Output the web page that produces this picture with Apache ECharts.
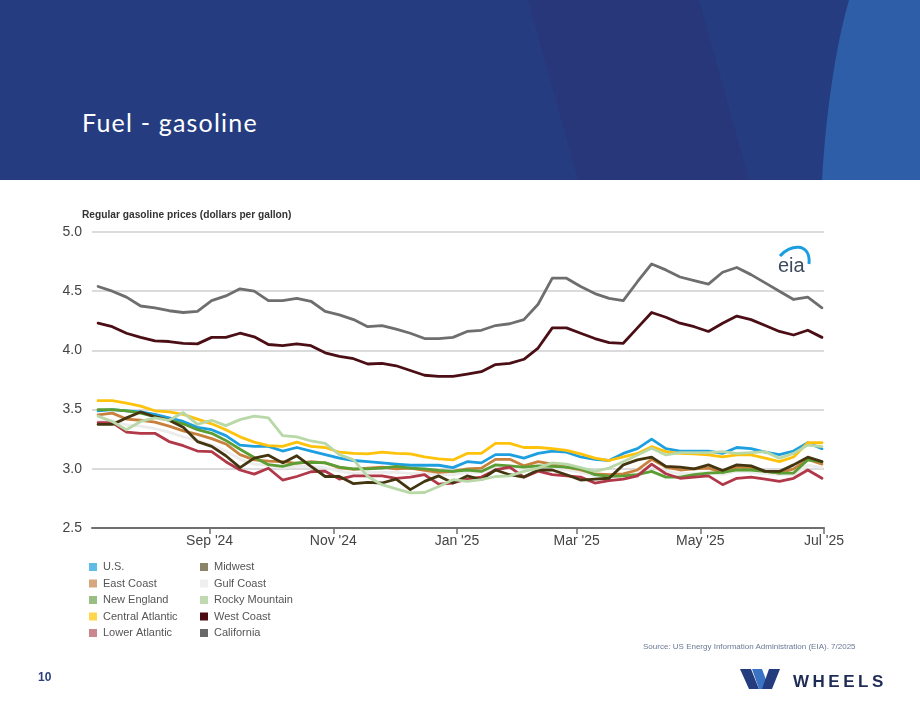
<!DOCTYPE html>
<html><head><meta charset="utf-8">
<script src="https://cdn.jsdelivr.net/npm/echarts@6/dist/echarts.min.js"></script>
<style>
html,body{margin:0;padding:0;width:920px;height:711px;overflow:hidden;background:#fff;font-family:"Liberation Sans",Arial,sans-serif;}
#header{position:absolute;left:0;top:0;}
#title{position:absolute;left:82px;top:106px;color:#fff;font-family:Lato,"Open Sans",sans-serif;font-size:25px;line-height:32px;letter-spacing:1.2px;}
#chart{position:absolute;left:0;top:0;width:920px;height:711px;}
#source{position:absolute;left:643px;top:642px;font-size:8px;color:#6a7896;white-space:nowrap;}
#page{position:absolute;left:38px;top:670px;font-size:12px;font-weight:bold;color:#2b3f7e;}
#logo{position:absolute;left:738px;top:666px;}
</style></head><body>
<svg id="header" width="920" height="180">
  <rect x="0" y="0" width="920" height="180" fill="#253d80"/>
  <polygon points="528,0 699,0 749,180 578,180" fill="#28377a"/>
  <path d="M849,0 L920,0 L920,180 L822,180 C826,110 836,45 849,0 Z" fill="#2e5ea8"/>
</svg>
<div id="title">Fuel - gasoline</div>
<div id="chart"></div>
<div id="source">Source: US Energy Information Administration (EIA). 7/2025</div>
<div id="page">10</div>
<svg id="logo" width="150" height="26">
  <polygon points="2,3 13,3 21,23 11,23" fill="#243c7e"/>
  <polygon points="14,3 24,3 30,19 26,23 21,23" fill="#3a73c4"/>
  <polygon points="31,3 42,3 34,23 24,23" fill="#243c7e"/>
  <text x="55" y="21" font-family="Liberation Sans, Arial" font-weight="bold" font-size="17" letter-spacing="3.5" fill="#1e2b55">WHEELS</text>
</svg>
<script>
// weekly observation dates (Mondays)
const startDate = [2024, 6, 8];
const weekCount = 52;
const dates = [];
for (let i = 0; i < weekCount; i++) dates.push(Date.UTC(startDate[0], startDate[1], startDate[2] + 7 * i));

const tickDates = [[2024,8,1],[2024,10,1],[2025,0,1],[2025,2,1],[2025,4,1],[2025,6,1]];
const tickLabels = ["Sep '24","Nov '24","Jan '25","Mar '25","May '25","Jul '25"];

const seriesNames = ['U.S.','East Coast','New England','Central Atlantic','Lower Atlantic','Midwest','Gulf Coast','Rocky Mountain','West Coast','California'];

const usData = [3.49,3.50,3.49,3.48,3.46,3.43,3.40,3.35,3.33,3.28,3.20,3.19,3.19,3.15,3.18,3.15,3.12,3.09,3.07,3.06,3.05,3.04,3.03,3.03,3.03,3.01,3.06,3.05,3.12,3.12,3.09,3.13,3.15,3.14,3.10,3.08,3.07,3.13,3.17,3.25,3.17,3.15,3.15,3.15,3.13,3.18,3.17,3.14,3.12,3.15,3.22,3.17];
const eastCoast = [3.455,3.47,3.42,3.41,3.395,3.36,3.32,3.29,3.255,3.21,3.12,3.075,3.065,3.06,3.045,3.06,3.05,3.01,2.995,3.006,3.014,3.0,3.006,2.986,2.97,2.978,3.0,3.006,3.08,3.08,3.025,3.06,3.04,3.014,2.99,2.958,2.95,2.958,2.99,3.08,3.014,2.99,3.0,3.006,2.97,3.014,3.006,2.978,2.964,3.0,3.08,3.04];
const newEngland = [3.50,3.50,3.49,3.47,3.44,3.41,3.38,3.33,3.30,3.24,3.165,3.095,3.035,3.02,3.05,3.055,3.05,3.015,3.00,3.0,3.006,3.02,3.006,3.0,2.986,2.978,2.99,2.978,3.033,3.025,3.014,3.025,3.02,3.014,3.0,2.95,2.936,2.94,2.95,2.978,2.93,2.93,2.95,2.964,2.97,2.99,2.99,2.978,2.964,2.964,3.075,3.06];
const centralAtlantic = [3.575,3.575,3.555,3.53,3.49,3.48,3.46,3.42,3.38,3.33,3.27,3.225,3.195,3.19,3.225,3.19,3.18,3.14,3.13,3.126,3.14,3.13,3.126,3.10,3.084,3.075,3.13,3.13,3.215,3.215,3.18,3.18,3.17,3.155,3.126,3.09,3.07,3.10,3.13,3.187,3.145,3.13,3.126,3.117,3.10,3.117,3.117,3.09,3.06,3.10,3.22,3.22];
const lowerAtlantic = [3.39,3.39,3.31,3.30,3.30,3.23,3.195,3.15,3.145,3.06,2.99,2.955,3.005,2.905,2.935,2.975,2.98,2.913,2.94,2.94,2.94,2.92,2.93,2.95,2.87,2.88,2.913,2.93,2.99,3.014,2.93,2.98,2.95,2.94,2.93,2.88,2.90,2.913,2.94,3.04,2.958,2.92,2.93,2.94,2.866,2.92,2.93,2.913,2.894,2.92,2.99,2.92];
const midwest = [3.375,3.375,3.43,3.48,3.44,3.41,3.35,3.23,3.19,3.11,3.01,3.09,3.115,3.05,3.11,3.02,2.935,2.935,2.874,2.885,2.88,2.913,2.824,2.894,2.94,2.88,2.94,2.908,2.99,2.95,2.93,2.99,2.99,2.95,2.905,2.913,2.92,3.033,3.075,3.098,3.02,3.014,3.0,3.033,2.986,3.033,3.025,2.978,2.978,3.033,3.098,3.06];
const gulfCoast = [3.40,3.41,3.37,3.36,3.34,3.31,3.27,3.24,3.20,3.15,3.08,3.04,3.03,3.01,3.02,3.02,3.01,2.98,2.96,2.97,2.97,2.97,2.96,2.96,2.95,2.95,2.97,2.97,3.02,3.01,2.99,3.01,3.00,2.99,2.97,2.94,2.93,2.94,2.96,3.02,2.98,2.96,2.96,2.97,2.95,2.98,2.97,2.96,2.95,2.95,3.03,3.01];
const rockyMountain = [3.445,3.40,3.33,3.40,3.43,3.41,3.475,3.375,3.41,3.365,3.415,3.445,3.43,3.28,3.27,3.235,3.215,3.12,3.075,2.935,2.866,2.83,2.796,2.80,2.85,2.908,2.894,2.908,2.935,2.94,2.978,3.006,3.05,3.04,3.01,2.978,3.006,3.06,3.117,3.173,3.117,3.137,3.137,3.137,3.145,3.13,3.137,3.145,3.09,3.13,3.20,3.187];
const westCoast = [4.23,4.20,4.145,4.11,4.08,4.075,4.06,4.055,4.11,4.11,4.145,4.115,4.05,4.04,4.055,4.04,3.98,3.95,3.93,3.885,3.89,3.87,3.83,3.79,3.78,3.78,3.80,3.82,3.88,3.89,3.925,4.02,4.19,4.19,4.145,4.10,4.065,4.06,4.19,4.32,4.28,4.23,4.20,4.16,4.23,4.29,4.26,4.21,4.16,4.13,4.17,4.11];
const california = [4.54,4.50,4.45,4.375,4.36,4.335,4.32,4.33,4.42,4.46,4.52,4.50,4.42,4.42,4.44,4.415,4.33,4.30,4.26,4.20,4.21,4.18,4.145,4.10,4.10,4.11,4.16,4.17,4.21,4.225,4.26,4.39,4.61,4.61,4.54,4.48,4.44,4.42,4.58,4.73,4.68,4.62,4.59,4.56,4.66,4.70,4.64,4.57,4.50,4.43,4.45,4.36];

const seriesValues = [usData,eastCoast,newEngland,centralAtlantic,lowerAtlantic,midwest,gulfCoast,rockyMountain,westCoast,california];
const lineColors = ['#1d9fe0','#c8803c','#5a9e34','#ffc20a','#b13848','#42350f','#ececec','#b9d8a8','#4b0e15','#6e6e6e'];
const legendColors = ['#5fbce6','#d5a77c','#98be82','#ffd64c','#cb878f','#8b8466','#efefef','#bfdab1','#4a0b11','#686868'];

const tickValues = tickDates.map(d => Date.UTC(d[0], d[1], d[2]));
function labelFor(v) {
  let best = -1, bd = Infinity;
  tickValues.forEach((t, i) => { const dd = Math.abs(t - v); if (dd < bd) { bd = dd; best = i; } });
  return bd < 86400000 ? tickLabels[best] : '';
}

// draw order: Gulf Coast first (sits underneath)
const drawOrder = [6,0,1,2,3,4,5,7,8,9];
const series = drawOrder.map(k => ({
  name: seriesNames[k],
  type: 'line',
  data: dates.map((d, i) => [d, seriesValues[k][i]]),
  showSymbol: false,
  symbol: 'none',
  lineStyle: { color: lineColors[k], width: 2.8, join: 'round', cap: 'round' },
  itemStyle: { color: lineColors[k] },
  emphasis: { disabled: true },
  z: 2
}));

function legendBlock(idx, left) {
  return {
    orient: 'vertical', left: left, top: 556,
    icon: 'rect', itemWidth: 8, itemHeight: 8, itemGap: 4.5,
    selectedMode: false,
    textStyle: { fontSize: 11, color: '#555', fontFamily: 'Liberation Sans', lineHeight: 12, padding: [0,0,0,1] },
    data: idx.map(k => ({ name: seriesNames[k], itemStyle: { color: legendColors[k] } }))
  };
}

const chart = echarts.init(document.getElementById('chart'));
chart.setOption({
  animation: false,
  backgroundColor: 'transparent',
  textStyle: { fontFamily: 'Liberation Sans' },
  title: {
    text: 'Regular gasoline prices (dollars per gallon)',
    left: 82, top: 210, padding: 0,
    textStyle: { fontSize: 10.2, fontWeight: 'bold', color: '#333', fontFamily: 'Liberation Sans' }
  },
  grid: { left: 92, right: 96, top: 232, bottom: 183 },
  legend: [legendBlock([0,1,2,3,4], 84), legendBlock([5,6,7,8,9], 195)],
  xAxis: {
    type: 'value',
    min: Date.UTC(2024, 6, 5),
    max: Date.UTC(2025, 6, 1),
    axisLine: { lineStyle: { color: '#6f6f6f', width: 2 } },
    axisTick: { show: true, customValues: tickValues, length: 6, lineStyle: { color: '#6f6f6f', width: 1.5 } },
    axisLabel: { customValues: tickValues, formatter: v => labelFor(v), fontSize: 14, color: '#444', margin: 6 },
    splitLine: { show: false }
  },
  yAxis: {
    type: 'value', min: 2.5, max: 5, interval: 0.5,
    axisLabel: { formatter: v => v.toFixed(1), fontSize: 14, color: '#444', margin: 10 },
    axisLine: { show: false }, axisTick: { show: false },
    splitLine: { lineStyle: { color: '#cfcfcf', width: 1.5 } }
  },
  graphic: [
    { type: 'text', left: 778, top: 256, style: { text: 'eia', fontSize: 20, fill: '#3c4a5b', fontFamily: 'Liberation Sans' }, z: 10 },
    { type: 'bezierCurve', shape: { x1: 780, y1: 256, cpx1: 790, cpy1: 244, cpx2: 811, cpy2: 242, x2: 809, y2: 264 }, style: { stroke: '#1b9ee0', lineWidth: 3, fill: null }, z: 10 }
  ],
  series: series
});
</script>
</body></html>
